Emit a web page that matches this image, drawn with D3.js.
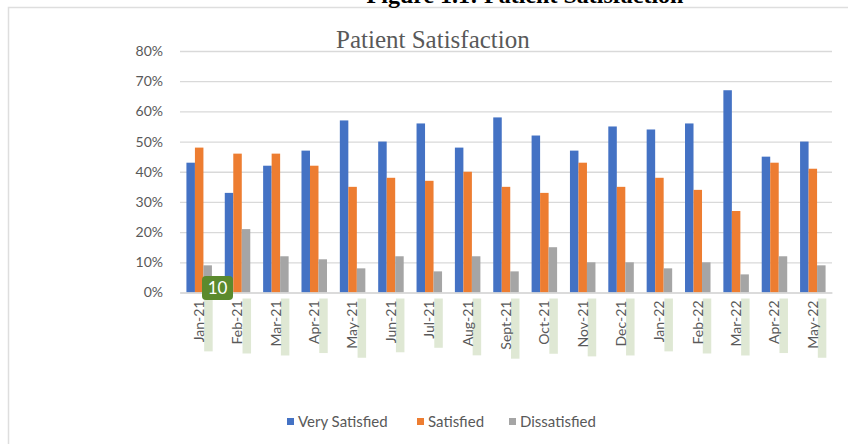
<!DOCTYPE html>
<html lang="en">
	<head>
		<meta charset="utf-8">
		<title>patient satisfaction</title>
		<script type="text/javascript" src="https://d3js.org/d3.v7.min.js"></script>
		<style type="text/css">
            body{
                margin:0;
                padding:0;
                background:white;
            }
            svg text{
                font-family:Lato, "Open Sans", sans-serif;
            }
		</style>
	</head>
	<body>
        <div id="chart"></div>
		<script type="text/javascript">
            var months = ["Jan-21","Feb-21","Mar-21","Apr-21","May-21","Jun-21","Jul-21","Aug-21","Sept-21","Oct-21","Nov-21","Dec-21","Jan-22","Feb-22","Mar-22","Apr-22","May-22"]
            var seriesNames = ["Very Satisfied","Satisfied","Dissatisfied"]
            var verySatisfied = [43,33,42,47,57,50,56,48,58,52,47,55,54,56,67,45,50]
            var satisfied = [48,46,46,42,35,38,37,40,35,33,43,35,38,34,27,43,41]
            var dissatisfied = [9,21,12,11,8,12,7,12,7,15,10,10,8,10,6,12,9]
            var yTicks = [0,10,20,30,40,50,60,70,80]
            var colors = ["#4472C4","#ED7D31","#A5A5A5"]

            var w = 848
            var h = 444
            var plotLeft = 180
            var plotRight = 832
            var plotTop = 51
            var plotBottom = 292.5

            var svg = d3.select("#chart").append("svg")
                .attr("width",w).attr("height",h)

            // page frame, cut off at the right and bottom
            svg.append("path")
                .attr("d","M8.5,"+(h+2)+"V7.5H"+(w+2))
                .attr("fill","none")
                .attr("stroke","#dedede")
                .attr("stroke-width",1.5)

            // document heading, mostly above the crop
            svg.append("text")
                .attr("x",525).attr("y",3)
                .attr("text-anchor","middle")
                .style("font-family","'Liberation Serif', serif")
                .style("font-weight","bold")
                .style("font-size","24px")
                .attr("fill","#000")
                .text("Figure 1.1: Patient Satisfaction")

            svg.append("text")
                .attr("x",336).attr("y",48)
                .style("font-family","'Liberation Serif', serif")
                .style("font-size","25px")
                .attr("fill","#595959")
                .text("Patient Satisfaction")

            var y = d3.scaleLinear().domain([0,80]).range([plotBottom,plotTop])
            var x0 = d3.scaleBand().domain(months).range([plotLeft,plotRight])
                .paddingInner(0.335).paddingOuter(0.1675)
            var x1 = d3.scaleBand().domain(seriesNames).range([0,x0.bandwidth()])

            var yAxis = d3.axisLeft(y).tickValues(yTicks)
                .tickSize(-(plotRight-plotLeft))
                .tickFormat(function(d){ return d+"%" })
            var gy = svg.append("g")
                .attr("transform","translate("+plotLeft+",0)")
                .call(yAxis)
            gy.select(".domain").remove()
            gy.selectAll(".tick line").attr("stroke","#d9d9d9").attr("stroke-width",1.3)
            gy.selectAll(".tick text")
                .attr("x",-17)
                .attr("fill","#595959")
                .style("font-size","14px")

            var rows = months.map(function(m,i){
                return {month:m, values:[verySatisfied[i],satisfied[i],dissatisfied[i]]}
            })

            var groups = svg.selectAll(".month").data(rows).enter().append("g")
                .attr("class","month")
                .attr("transform",function(d){ return "translate("+x0(d.month)+",0)" })

            groups.selectAll("rect").data(function(d){
                    return d.values.map(function(v,j){ return {name:seriesNames[j], value:v, j:j} })
                })
                .enter().append("rect")
                .attr("x",function(d){ return x1(d.name) })
                .attr("width",x1.bandwidth())
                .attr("y",function(d){ return y(d.value) })
                .attr("height",function(d){ return y(0)-y(d.value) })
                .attr("fill",function(d){ return colors[d.j] })

            // x labels with the pale green marks beside them
            var xAxis = d3.axisBottom(x0).tickSize(0)
            var gx = svg.append("g")
                .attr("transform","translate(0,"+plotBottom+")")
                .call(xAxis)
            gx.select(".domain").attr("stroke","#d9d9d9").attr("stroke-width",1.3)
            gx.selectAll(".tick text")
                .attr("transform","rotate(-90)")
                .attr("text-anchor","end")
                .attr("x",-8)
                .attr("y",0)
                .attr("dy","0.35em")
                .attr("fill","#595959")
                .style("font-size","14px")

            gx.selectAll(".tick").each(function(){
                var t = d3.select(this).select("text")
                var len = t.node().getComputedTextLength()
                d3.select(this).insert("rect","text")
                    .attr("x",5)
                    .attr("y",6)
                    .attr("width",8.5)
                    .attr("height",len+11)
                    .attr("fill","#dbe5cf")
                    .attr("opacity",0.9)
            })

            // page number badge
            svg.append("rect")
                .attr("x",202).attr("y",276)
                .attr("width",31).attr("height",24)
                .attr("rx",4)
                .attr("fill","#5b8a2d")
            svg.append("text")
                .attr("x",217.5).attr("y",294)
                .attr("text-anchor","middle")
                .attr("fill","#fff")
                .style("font-size","17px")
                .text("10")

            // legend
            var legendX = [287,417,509]
            var legend = svg.selectAll(".legend").data(seriesNames).enter().append("g")
                .attr("class","legend")
                .attr("transform",function(d,i){ return "translate("+legendX[i]+",422)" })
            legend.append("rect")
                .attr("x",0).attr("y",-4)
                .attr("width",7).attr("height",7)
                .attr("fill",function(d,i){ return colors[i] })
            legend.append("text")
                .attr("x",11).attr("y",0)
                .attr("dy","0.35em")
                .attr("fill","#595959")
                .style("font-size","15px")
                .text(function(d){ return d })
		</script>
	</body>
</html>
